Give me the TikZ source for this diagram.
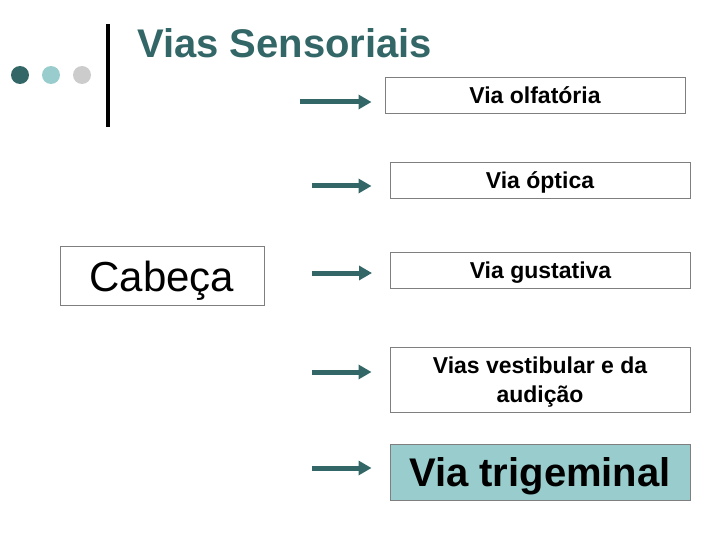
\documentclass[tikz,border=0pt]{standalone}
\usepackage{fontspec}
\setmainfont{Liberation Sans}
\usetikzlibrary{arrows.meta}

\definecolor{tealdark}{HTML}{336666}
\definecolor{teallight}{HTML}{99CCCC}
\definecolor{greydot}{HTML}{CCCCCC}
\definecolor{boxline}{HTML}{7F7F7F}

\tikzset{
  viabox/.style={draw=boxline, line width=1pt, inner sep=0pt, minimum width=300pt,
    minimum height=36pt, align=center, text height=16pt, text depth=0pt,
    font=\bfseries\fontsize{23}{29}\selectfont},
  seta/.style={tealdark, line width=5pt,
    -{Triangle[length=13pt, width=14pt]}},
  dot/.style={circle, inner sep=0pt, minimum size=18pt}
}

\begin{document}
\begin{tikzpicture}[x=1pt, y=-1pt]
		\useasboundingbox (0, 0) rectangle (720, 540);
		% the three dots and the bar of the title
		\node [dot, fill=tealdark] (dot1) at (20, 75) {};
		\node [dot, fill=teallight] (dot2) at (51, 75) {};
		\node [dot, fill=greydot] (dot3) at (82, 75) {};
		\draw [line width=4pt] (108, 24) -- (108, 127);
		\node [anchor=base west, inner sep=0pt, tealdark, font=\bfseries\fontsize{40}{42}\selectfont] (title) at (137, 58) {Vias Sensoriais};
		% the head box
		\node [draw=boxline, line width=1pt, inner sep=0pt, minimum width=204pt, minimum height=59pt,
			text height=30pt, text depth=0pt, font=\fontsize{42}{44}\selectfont] (cabeca) at (162, 276) {Cabeça};
		% the sensory pathways
		\node [viabox] (olf) at (535, 96) {Via olfatória};
		\node [viabox] (opt) at (540, 180.5) {Via óptica};
		\node [viabox] (gus) at (540.5, 270) {Via gustativa};
		\node [viabox, minimum height=65pt, text height=45pt] (ves) at (540, 379.5) {Vias vestibular e da\\audição};
		\node [viabox, minimum height=56pt, fill=teallight, text height=29pt,
			font=\bfseries\fontsize{40}{44}\selectfont] (tri) at (540, 472) {Via trigeminal};
		% arrows, each one stops short of its box
		\coordinate (s1) at (300, 102);
		\coordinate (s2) at (312, 186);
		\coordinate (s3) at (312, 273);
		\coordinate (s4) at (312, 372);
		\coordinate (s5) at (312, 468);
		\draw [seta, shorten >=13pt] (s1) -- (s1 -| olf.west);
		\draw [seta, shorten >=18pt] (s2) -- (s2 -| opt.west);
		\draw [seta, shorten >=18pt] (s3) -- (s3 -| gus.west);
		\draw [seta, shorten >=18pt] (s4) -- (s4 -| ves.west);
		\draw [seta, shorten >=18pt] (s5) -- (s5 -| tri.west);
	\end{tikzpicture}
\end{document}
